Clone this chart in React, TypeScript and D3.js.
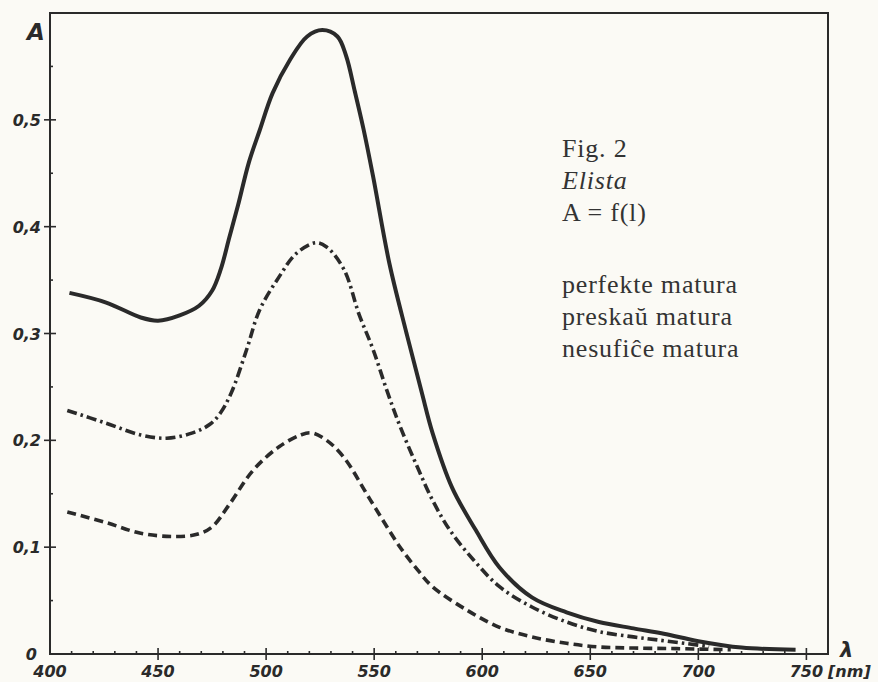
import React, { Component } from "react";
import * as d3 from "d3";

const perfekteNm = [409, 426, 442, 450, 460, 469, 475, 479, 483, 487, 492, 497, 503, 511, 519, 526, 533, 537, 541, 545, 549.5, 557, 565, 572, 577, 586, 597, 608, 623, 639, 654, 670, 684, 700, 720, 745];
const perfekteA = [0.338, 0.329, 0.315, 0.312, 0.317, 0.326, 0.34, 0.36, 0.39, 0.42, 0.46, 0.49, 0.525, 0.556, 0.578, 0.584, 0.578, 0.56, 0.527, 0.492, 0.447, 0.366, 0.3, 0.245, 0.207, 0.156, 0.116, 0.081, 0.053, 0.039, 0.03, 0.024, 0.019, 0.012, 0.006, 0.004];

const preskauNm = [408, 426, 442, 454, 466, 474, 479, 484, 491, 497, 506, 514, 523, 528, 536, 543, 549.5, 556, 562, 570, 577, 585, 596, 608, 623, 639, 654, 670, 682, 705];
const preskauA = [0.228, 0.216, 0.205, 0.202, 0.207, 0.215, 0.226, 0.245, 0.285, 0.322, 0.353, 0.375, 0.385, 0.381, 0.36, 0.318, 0.285, 0.246, 0.213, 0.175, 0.144, 0.116, 0.088, 0.063, 0.044, 0.03, 0.021, 0.016, 0.013, 0.007];

const nesuficeNm = [408, 426, 442, 457, 468, 475, 483, 494, 506, 516, 521, 528, 536, 548, 562, 570, 577, 593, 608, 623, 639, 654, 670, 690, 715];
const nesuficeA = [0.133, 0.123, 0.113, 0.11, 0.112, 0.119, 0.14, 0.172, 0.194, 0.205, 0.207, 0.2, 0.184, 0.145, 0.1, 0.079, 0.063, 0.041, 0.025, 0.016, 0.01, 0.0066, 0.0056, 0.005, 0.004];

const xTickLabels = [400, 450, 500, 550, 600, 650, 700, 750];
const yTickLabels = [0, 0.1, 0.2, 0.3, 0.4, 0.5];
const legendLines = ["perfekte matura", "preskaŭ matura", "nesufiĉe matura"];
const titleLines = ["Fig. 2", "Elista", "A = f(l)"];

class App extends Component {
  svgRef = React.createRef<SVGSVGElement>();

  componentDidMount() {
    var svg = d3.select(this.svgRef.current);
    svg.selectAll("*").remove();

    var left = 50, right = 828, top = 13, bottom = 654;
    var ink = "#2a2a2a";
    var handFont = "'DejaVu Sans', sans-serif";

    const x = d3.scaleLinear().domain([400, 760]).range([left, right]);
    const y = d3.scaleLinear().domain([0, 0.6]).range([bottom, top]);

    // paper
    svg.append("rect").attr("width", 878).attr("height", 682).attr("fill", "#fbfaf5");

    // frame
    svg.append("rect")
      .attr("x", left).attr("y", top)
      .attr("width", right - left).attr("height", bottom - top)
      .attr("fill", "none").attr("stroke", ink).attr("stroke-width", 2);

    // x ticks, every 10 nm, big ones every 50
    var xMinor = d3.range(410, 751, 10);
    svg.selectAll(".x_tick").data(xMinor).join("line")
      .attr("class", "x_tick")
      .attr("x1", d => x(d)).attr("x2", d => x(d))
      .attr("y1", d => (d % 50 === 0 ? bottom + 6 : bottom))
      .attr("y2", d => (d % 50 === 0 ? bottom - 6 : bottom - 3))
      .attr("stroke", ink).attr("stroke-width", 1.6);

    svg.selectAll(".x_lab").data(xTickLabels).join("text")
      .attr("class", "x_lab")
      .attr("x", d => x(d)).attr("y", 677)
      .attr("text-anchor", "middle")
      .style("font-family", handFont).style("font-style", "italic")
      .style("font-weight", "bold")
      .style("font-size", "16px").attr("fill", ink)
      .text(d => d);

    // y ticks, every 0.05
    var yMinor = d3.range(1, 12).map(i => i * 0.05);
    svg.selectAll(".y_tick").data(yMinor).join("line")
      .attr("class", "y_tick")
      .attr("x1", (d, i) => (i % 2 === 1 ? left - 6 : left))
      .attr("x2", (d, i) => (i % 2 === 1 ? left + 6 : left + 3))
      .attr("y1", d => y(d)).attr("y2", d => y(d))
      .attr("stroke", ink).attr("stroke-width", 1.6);

    svg.selectAll(".y_lab").data(yTickLabels).join("text")
      .attr("class", "y_lab")
      .attr("x", d => (d === 0 ? 37 : 41)).attr("y", d => y(d) + 6)
      .attr("text-anchor", "end")
      .style("font-family", handFont).style("font-style", "italic")
      .style("font-weight", "bold")
      .style("font-size", "16px").attr("fill", ink)
      .text(d => (d === 0 ? "0" : d3.format(".1f")(d).replace(".", ",")));

    // axis names
    svg.append("text").attr("x", 27).attr("y", 40)
      .style("font-family", handFont).style("font-style", "italic")
      .style("font-weight", "bold")
      .style("font-size", "23px").attr("fill", ink).text("A");
    svg.append("text").attr("x", 840).attr("y", 657)
      .style("font-family", handFont).style("font-style", "italic")
      .style("font-weight", "bold")
      .style("font-size", "21px").attr("fill", ink).text("λ");
    svg.append("text").attr("x", 828).attr("y", 677)
      .style("font-family", handFont).style("font-style", "italic")
      .style("font-weight", "bold")
      .style("font-size", "16px").attr("fill", ink).text("[nm]");

    // curves
    var line = d3.line<number[]>()
      .x(d => x(d[0])).y(d => y(d[1]))
      .curve(d3.curveCatmullRom.alpha(0.5));

    var series = [
      { nm: perfekteNm, a: perfekteA, dash: null, w: 4 },
      { nm: preskauNm, a: preskauA, dash: "10 4 2.5 4", w: 3.6 },
      { nm: nesuficeNm, a: nesuficeA, dash: "9 5", w: 3.6 },
    ];
    svg.selectAll(".curve").data(series).join("path")
      .attr("class", "curve")
      .attr("d", s => line(s.nm.map((n, i) => [n, s.a[i]])))
      .attr("fill", "none").attr("stroke", ink)
      .attr("stroke-width", s => s.w)
      .attr("stroke-dasharray", s => s.dash)
      .attr("stroke-linecap", "butt");

    // caption
    var serif = "'Liberation Serif', 'Times New Roman', serif";
    svg.selectAll(".title").data(titleLines).join("text")
      .attr("class", "title")
      .attr("x", 562).attr("y", (d, i) => 157 + i * 32)
      .style("font-family", serif).style("font-size", "26px")
      .style("font-style", (d, i) => (i === 1 ? "italic" : "normal"))
      .style("letter-spacing", "0.8px")
      .attr("fill", "#333").text(d => d);

    svg.selectAll(".legend").data(legendLines).join("text")
      .attr("class", "legend")
      .attr("x", 562).attr("y", (d, i) => 293 + i * 32)
      .style("font-family", serif).style("font-size", "26px")
      .style("letter-spacing", "0.8px")
      .attr("fill", "#333").text(d => d);
  }

  render() {
    return (
      <svg ref={this.svgRef} width={878} height={682}
        style={{ position: "absolute", left: 0, top: 0 }} />
    );
  }
}

export default App;
